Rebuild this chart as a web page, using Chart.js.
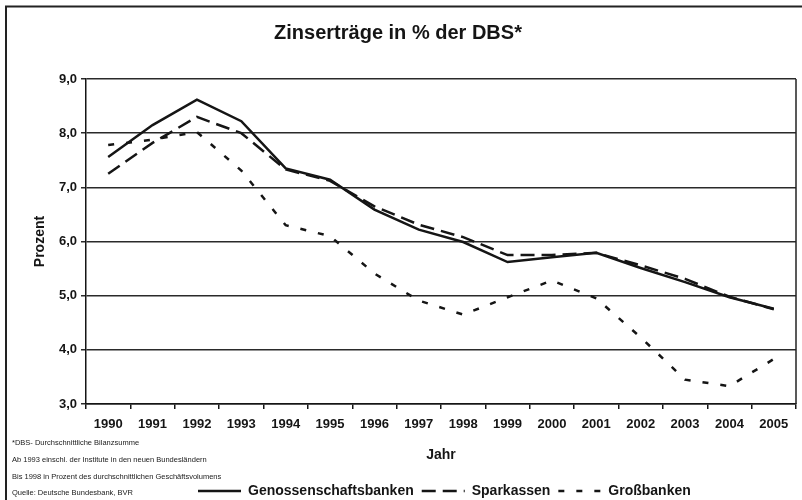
<!DOCTYPE html>
<html>
<head>
<meta charset="utf-8">
<script src="https://cdn.jsdelivr.net/npm/chart.js@4/dist/chart.umd.min.js"></script>
<style>
  html, body { margin: 0; padding: 0; background: #fff; }
  #wrap { position: relative; width: 802px; height: 500px; }
</style>
</head>
<body>
<div id="wrap"><canvas id="c" width="802" height="500"></canvas></div>
<script>
const years = ['1990','1991','1992','1993','1994','1995','1996','1997','1998','1999','2000','2001','2002','2003','2004','2005'];
const genossenschaftsbanken = [7.56, 8.15, 8.62, 8.22, 7.35, 7.14, 6.59, 6.22, 5.99, 5.62, 5.71, 5.79, 5.51, 5.25, 4.97, 4.76];
const sparkassen            = [7.25, 7.82, 8.30, 8.00, 7.33, 7.12, 6.65, 6.31, 6.08, 5.75, 5.75, 5.79, 5.56, 5.31, 4.98, 4.75];
const grossbanken           = [7.78, 7.88, 8.02, 7.31, 6.30, 6.10, 5.41, 4.91, 4.65, 4.97, 5.28, 4.95, 4.23, 3.45, 3.33, 3.83];
const seriesNames = ['Genossenschaftsbanken', 'Sparkassen', 'Großbanken'];
const yMin = 3, yMax = 9, yStep = 1;
const titleText = 'Zinserträge in % der DBS*';
const xTitle = 'Jahr';
const yTitle = 'Prozent';
const footnotes = [
  '*DBS- Durchschnittliche Bilanzsumme',
  'Ab 1993 einschl. der Institute in den neuen Bundesländern',
  'Bis 1998 in Prozent des durchschnittlichen Geschäftsvolumens',
  'Quelle: Deutsche Bundesbank, BVR'
];

const INK = '#151515';
const FONT = 'Arial, "Liberation Sans", sans-serif';

const decoPlugin = {
  id: 'deco',
  afterLayout(chart) {
    const lg = chart.legend;
    if (lg) { lg.left = 190; lg.top += 8; }
  },
  beforeDraw(chart) {
    const ctx = chart.ctx;
    ctx.save();
    ctx.fillStyle = '#fff';
    ctx.fillRect(0, 0, chart.width, chart.height);
    ctx.restore();
  },
  afterDraw(chart) {
    const ctx = chart.ctx;
    const a = chart.chartArea;
    ctx.save();
    ctx.strokeStyle = '#222';
    ctx.lineWidth = 2;
    ctx.beginPath();
    ctx.moveTo(6, 500); ctx.lineTo(6, 6.5); ctx.lineTo(802, 6.5);
    ctx.stroke();
    ctx.lineWidth = 1.5;
    ctx.beginPath();
    ctx.moveTo(a.right, a.top); ctx.lineTo(a.right, a.bottom);
    ctx.stroke();
    ctx.fillStyle = '#1a1a1a';
    ctx.font = '7.5px ' + FONT;
    ctx.textBaseline = 'middle';
    ctx.textAlign = 'left';
    const ys = [443, 460, 477, 493];
    footnotes.forEach((t, i) => ctx.fillText(t, 12, ys[i]));
    ctx.restore();
  }
};

new Chart(document.getElementById('c'), {
  type: 'line',
  data: {
    labels: years,
    datasets: [
      { label: seriesNames[0], data: genossenschaftsbanken, borderColor: INK, backgroundColor: INK, borderWidth: 2.5, borderDash: [], pointRadius: 0, tension: 0 },
      { label: seriesNames[1], data: sparkassen, borderColor: INK, backgroundColor: INK, borderWidth: 2.5, borderDash: [14, 7], pointRadius: 0, tension: 0 },
      { label: seriesNames[2], data: grossbanken, borderColor: INK, backgroundColor: INK, borderWidth: 2.5, borderDash: [6, 12], pointRadius: 0, tension: 0 }
    ]
  },
  options: {
    responsive: false,
    animation: false,
    devicePixelRatio: 1,
    layout: { padding: { top: 0, right: 6, bottom: 0, left: 0 } },
    plugins: {
      title: {
        display: true,
        text: titleText,
        color: INK,
        font: { family: FONT, size: 20, weight: 'bold' },
        padding: { top: 21, bottom: 34 }
      },
      legend: {
        display: true,
        position: 'bottom',
        align: 'start',
        labels: {
          usePointStyle: true,
          pointStyle: 'line',
          pointStyleWidth: 43,
          color: INK,
          padding: 8,
          font: { family: FONT, size: 14, weight: 'bold' },
          generateLabels(chart) {
            const items = Chart.defaults.plugins.legend.labels.generateLabels(chart);
            items.forEach(it => {
              const ds = chart.data.datasets[it.datasetIndex];
              it.lineDash = ds.borderDash;
              it.lineWidth = ds.borderWidth;
              it.strokeStyle = ds.borderColor;
            });
            return items;
          }
        }
      },
      tooltip: { enabled: false }
    },
    scales: {
      x: {
        offset: true,
        grid: { offset: true, drawOnChartArea: false, drawTicks: true, tickLength: 5, color: INK, lineWidth: 1.5 },
        border: { display: true, color: INK, width: 1.5 },
        ticks: { color: INK, padding: 8, maxRotation: 0, autoSkip: false, font: { family: FONT, size: 13, weight: 'bold' } },
        title: { display: true, text: xTitle, color: INK, font: { family: FONT, size: 14, weight: 'bold' }, padding: { top: 4, bottom: 4 } },
        afterFit(scale) { scale.height = 64; }
      },
      y: {
        min: yMin,
        max: yMax,
        ticks: {
          stepSize: yStep,
          color: INK,
          padding: 4,
          font: { family: FONT, size: 13, weight: 'bold' },
          callback: v => v.toFixed(1).replace('.', ',')
        },
        grid: { color: '#2a2a2a', lineWidth: 1.5, tickLength: 5, drawTicks: true },
        border: { display: true, color: INK, width: 1.5 },
        title: { display: true, text: yTitle, color: INK, font: { family: FONT, size: 14, weight: 'bold' }, padding: { top: 32, bottom: 0 } },
        afterFit(scale) { scale.width = 86; }
      }
    }
  },
  plugins: [decoPlugin]
});
</script>
</body>
</html>
